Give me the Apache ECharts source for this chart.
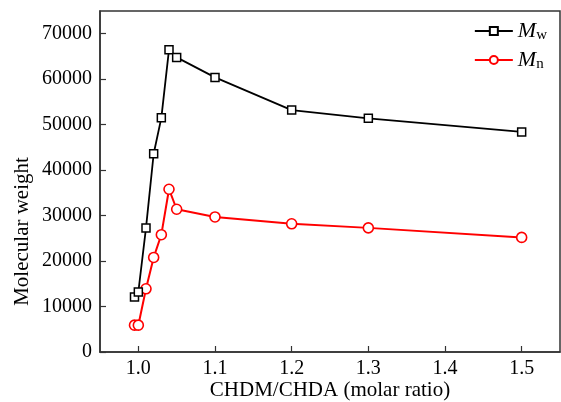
<!DOCTYPE html>
<html>
<head>
<meta charset="utf-8">
<script src="https://cdn.jsdelivr.net/npm/echarts@6/dist/echarts.min.js"></script>
<style>
  html, body { margin: 0; padding: 0; background: #fff; }
  #chart { width: 561px; height: 402px; }
</style>
</head>
<body>
<div id="chart"></div>
<script>
// Molar ratio CHDM/CHDA for each sample
const ratios = [0.995, 1.0, 1.01, 1.02, 1.03, 1.04, 1.05, 1.1, 1.2, 1.3, 1.5];
// Weight-average and number-average molecular weights
const mwValues = [12100, 13200, 27300, 43600, 51500, 66500, 64800, 60400, 53200, 51400, 48400];
const mnValues = [5900, 5900, 13900, 20800, 25800, 35800, 31400, 29700, 28200, 27300, 25200];
// Axis tick labels
const xTicks = [1.0, 1.1, 1.2, 1.3, 1.4, 1.5];
const yTicks = [0, 10000, 20000, 30000, 40000, 50000, 60000, 70000];

const FONT = 'Liberation Serif';
const AXIS_COLOR = '#333';

const pair = (xs, ys) => xs.map((x, i) => [x, ys[i]]);

const chart = echarts.init(document.getElementById('chart'), null, { renderer: 'canvas' });

chart.setOption({
  animation: false,
  backgroundColor: '#fff',
  grid: {
    left: 100, right: 1, top: 11, bottom: 50,
    containLabel: false,
    outerBoundsMode: 'none',
    show: true, borderColor: AXIS_COLOR, borderWidth: 1.5,
    backgroundColor: 'transparent'
  },
  legend: {
    right: 9, top: 15,
    orient: 'vertical',
    itemWidth: 38, itemHeight: 10, itemGap: 6,
    textStyle: {
      fontFamily: FONT, fontSize: 22, color: '#000',
      rich: {
        m: { fontFamily: FONT, fontSize: 22, fontStyle: 'italic', color: '#000' },
        s: { fontFamily: FONT, fontSize: 15, color: '#000', verticalAlign: 'bottom', padding: [9, 0, 0, 0] }
      }
    },
    formatter: name => name === 'Mw' ? '{m|M}{s|w}' : '{m|M}{s|n}',
    data: ['Mw', 'Mn']
  },
  xAxis: {
    type: 'value',
    min: 0.95, max: 1.55,
    name: 'CHDM/CHDA (molar ratio)',
    nameLocation: 'middle',
    nameGap: 28,
    nameMoveOverlap: false,
    nameTextStyle: { fontFamily: FONT, fontSize: 21, color: '#000' },
    axisLine: { show: true, onZero: false, lineStyle: { color: AXIS_COLOR, width: 1.5 } },
    axisTick: { show: true, inside: true, length: 6, customValues: xTicks, lineStyle: { color: AXIS_COLOR, width: 1.2 } },
    axisLabel: {
      customValues: xTicks,
      margin: 7,
      fontFamily: FONT, fontSize: 20, color: '#000',
      formatter: v => v.toFixed(1)
    },
    splitLine: { show: false }
  },
  yAxis: {
    type: 'value',
    min: 0, max: 75000,
    name: 'Molecular weight',
    nameLocation: 'middle',
    nameGap: 67,
    nameMoveOverlap: false,
    nameTextStyle: { fontFamily: FONT, fontSize: 21, color: '#000', padding: [0, 100, 0, 0] },
    axisLine: { show: true, lineStyle: { color: AXIS_COLOR, width: 1.5 } },
    axisTick: { show: true, inside: true, length: 6, customValues: yTicks, lineStyle: { color: AXIS_COLOR, width: 1.2 } },
    axisLabel: {
      customValues: yTicks,
      margin: 8,
      fontFamily: FONT, fontSize: 20, color: '#000',
      formatter: v => String(v)
    },
    splitLine: { show: false }
  },
  series: [
    {
      name: 'Mw',
      type: 'line',
      data: pair(ratios, mwValues),
      symbol: 'rect',
      symbolSize: 8,
      lineStyle: { color: '#000', width: 1.8 },
      itemStyle: { color: '#fff', borderColor: '#000', borderWidth: 1.5 },
      z: 3
    },
    {
      name: 'Mn',
      type: 'line',
      data: pair(ratios, mnValues),
      symbol: 'circle',
      symbolSize: 10,
      lineStyle: { color: '#ff0000', width: 2 },
      itemStyle: { color: '#fff', borderColor: '#ff0000', borderWidth: 1.6 },
      z: 2
    }
  ]
});
</script>
</body>
</html>
